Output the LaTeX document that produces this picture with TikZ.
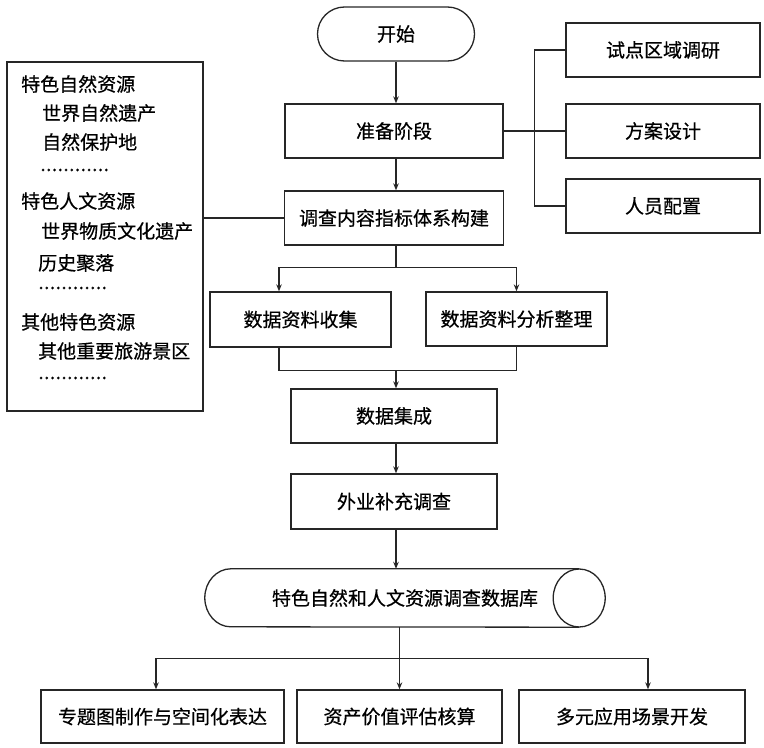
\documentclass[tikz,border=0pt]{standalone}
\usepackage{fontspec}
\setmainfont[FakeBold=0.6]{Noto Sans CJK SC}
\usetikzlibrary{arrows.meta}
\newcommand\fsz{\fontsize{19bp}{22bp}\selectfont}
\newcommand\dotrow{\hbox to 69bp{\xleaders\hbox to 5.75bp{\hss.\hss}\hfill}}
\tikzset{
  ln/.style={line width=1.3bp, draw=black!85},
  box/.style={ln, draw, rectangle, minimum height=54bp, inner sep=0pt, font=\fsz},
  arr/.style={ln, -{Stealth[length=7bp,width=5.5bp]}},
  lt/.style={anchor=west, inner sep=0pt, font=\fsz},
}
\begin{document}
\begin{tikzpicture}[x=1bp,y=-1bp]
\useasboundingbox (0,0) rectangle (764,748);
% main column
\node[box, rounded corners=27bp, minimum width=157bp] (start) at (396,34) {开始};
\node[box, minimum width=218bp] (prep) at (394,131) {准备阶段};
\node[box, minimum width=219bp] (survey) at (394,218) {调查内容指标体系构建};
\node[box, minimum width=181bp, minimum height=55bp] (c1) at (300.5,319.5) {数据资料收集};
\node[box, minimum width=181bp] (c2) at (516.5,319) {数据资料分析整理};
\node[box, minimum width=206bp] (ji) at (394,416) {数据集成};
\node[box, minimum width=206bp, minimum height=55bp] (wai) at (394,501.5) {外业补充调查};
\node[inner sep=0pt, minimum width=400bp, minimum height=58bp, font=\fsz] (db) at (405,598) {特色自然和人文资源调查数据库};
\node[box, minimum width=243bp, minimum height=53bp] (b1) at (162.5,716.5) {专题图制作与空间化表达};
\node[box, minimum width=205bp, minimum height=53bp] (b2) at (399.5,716.5) {资产价值评估核算};
\node[box, minimum width=226bp, minimum height=53bp] (b3) at (632,716.5) {多元应用场景开发};
% right boxes
\node[box, minimum width=194bp] (r1) at (663,50) {试点区域调研};
\node[box, minimum width=194bp] (r2) at (663,131) {方案设计};
\node[box, minimum width=194bp] (r3) at (663,206) {人员配置};
% left box
\node[ln, draw, minimum width=196bp, minimum height=349bp] (res) at (105,236.5) {};
\node[lt] (t1) at (21,84) {特色自然资源};
\node[lt] (t2) at (42,113) {世界自然遗产};
\node[lt] (t3) at (42,142) {自然保护地};
\node[lt] (t4) at (40,170) {\dotrow};
\node[lt] (t5) at (21,201) {特色人文资源};
\node[lt] (t6) at (41,231) {世界物质文化遗产};
\node[lt] (t7) at (38,263) {历史聚落};
\node[lt] (t8) at (38,288) {\dotrow};
\node[lt] (t9) at (21,322) {其他特色资源};
\node[lt] (t10) at (38,351) {其他重要旅游景区};
\node[lt] (t11) at (38,378) {\dotrow};
% cylinder outline
\draw[ln] ([xshift=-26bp]db.north east) -- ([xshift=26bp]db.north west)
  arc[start angle=90, end angle=270, x radius=26bp, y radius=29bp]
  -- ([xshift=-26bp]db.south east);
\draw[ln] ([xshift=-26bp]db.east) ellipse[x radius=26bp, y radius=29bp];
% connectors
\draw[arr] (start.south) -- (start.south |- prep.north);
\draw[arr] (start.south |- prep.south) -- (start.south |- survey.north);
\draw[ln] (prep.east) -- (prep.east -| r2.west);
\draw[ln] (r1.west) -- ++(-31,0) |- (r3.west);
\draw[ln] (res.east |- survey.west) -- (survey.west);
\draw[ln] (start.south |- survey.south) -- ++(0,22) coordinate (sp);
\draw[arr] (sp) -| ([xshift=-21.5bp]c1.north);
\draw[arr] (sp) -| (c2.north);
\draw[ln] ([xshift=-21.5bp]c1.south) -- ++(0,23) coordinate (mg) -| (c2.south);
\draw[arr] (mg -| start.south) -- (start.south |- ji.north);
\draw[arr] (start.south |- ji.south) -- (start.south |- wai.north);
\draw[arr] (start.south |- wai.south) -- (start.south |- db.north);
\draw[ln] (b2.north |- db.south) -- ++(0,31) coordinate (bh);
\draw[arr] (bh) -- (b2.north);
\draw[arr] (bh) -| ([xshift=-6.5bp]b1.north);
\draw[arr] (bh) -| ([xshift=16bp]b3.north);
\end{tikzpicture}
\end{document}
